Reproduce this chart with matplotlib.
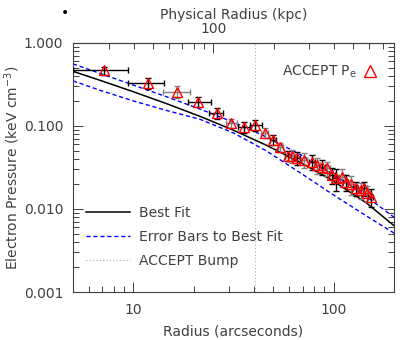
import numpy as np
import matplotlib.pyplot as plt
from matplotlib.lines import Line2D
from matplotlib.ticker import LogLocator, FixedLocator, NullFormatter, FormatStrFormatter

KPC_PER_ARCSEC = 3.98
BUMP_RADIUS = 40.3

# ACCEPT electron pressure points (arcsec, keV cm^-3)
radius = [7.1, 11.8, 16.6, 21.1, 26.2, 30.9, 35.6, 40.7, 45.2, 49.9, 54.3, 59.0,
          62.2, 65.9, 71.0, 78.3, 82.9, 87.8, 93.0, 98.5, 102.3, 110.5, 114.8,
          121.6, 128.8, 136.5, 141.8, 147.4, 153.1]
pressure = [0.467, 0.327, 0.259, 0.195, 0.143, 0.108, 0.098, 0.103, 0.083, 0.068,
            0.0554, 0.0439, 0.0439, 0.0408, 0.0390, 0.0371, 0.0339, 0.0323, 0.0309,
            0.0257, 0.0234, 0.0245, 0.0213, 0.0199, 0.0178, 0.0169, 0.0178, 0.0155,
            0.0141]
r_lo = [2.1, 2.36, 2.5, 2.3, 2.2, 1.8, 2.3, 2.6, 1.6, 1.7, 1.8, 2.0, 2.1, 2.2, 2.4,
        2.6, 2.8, 2.9, 3.1, 3.3, 3.4, 3.7, 3.8, 4.0, 4.3, 4.5, 4.7, 4.9, 5.1]
r_hi = [2.34, 2.4, 2.5, 3.2, 2.0, 1.9, 2.5, 3.0, 1.7, 1.8, 1.9, 2.0, 2.1, 2.2, 2.4,
        2.6, 2.8, 2.9, 3.1, 3.3, 3.4, 3.7, 3.8, 4.0, 4.3, 4.5, 4.7, 4.9, 5.1]
p_frac = [0.11, 0.15, 0.17, 0.14, 0.16, 0.13, 0.15, 0.15, 0.14, 0.14, 0.13, 0.15,
          0.18, 0.18, 0.2, 0.2, 0.22, 0.2, 0.2, 0.22, 0.3, 0.25, 0.22, 0.25, 0.2,
          0.22, 0.2, 0.22, 0.25]
bar_colors = ['black', 'black', 'gray', 'black', 'black', 'gray', 'black', 'black',
              'gray', 'black', 'gray', 'black', 'gray', 'black', 'gray', 'black',
              'gray', 'black', 'gray', 'black', 'black', 'gray', 'black', 'gray',
              'black', 'gray', 'black', 'gray', 'black']

# fit curves
fit_r = [5.0, 6.84, 10, 14.6, 21.6, 31.6, 46.2, 68.4, 100, 146, 202]
best_fit = [0.454, 0.353, 0.258, 0.186, 0.130, 0.0889, 0.0585, 0.0363, 0.0216, 0.0118, 0.0062]
fit_upper = [0.558, 0.428, 0.310, 0.225, 0.159, 0.111, 0.0736, 0.0451, 0.0260, 0.0141, 0.00785]
fit_lower = [0.348, 0.268, 0.200, 0.1538, 0.1198, 0.0824, 0.0500, 0.0271, 0.01475, 0.00824, 0.00507]

plt.rcParams['font.family'] = 'DejaVu Sans'
txt = '0.25'

fig = plt.figure(figsize=(4.15, 3.4), dpi=100)
ax = fig.add_axes([0.176, 0.141, 0.773, 0.733])

ax.plot(fit_r, best_fit, color='black', lw=1.1, label='Best Fit')
ax.plot(fit_r, fit_upper, color='blue', lw=1, ls=(0, (3, 2)), label='Error Bars to Best Fit')
ax.plot(fit_r, fit_lower, color='blue', lw=1, ls=(0, (3, 2)))
ax.axvline(BUMP_RADIUS, color='#a8b0a8', lw=0.8, ls=(0, (1, 2)), label='ACCEPT Bump')

for i in range(len(radius)):
    ax.errorbar(radius[i], pressure[i], xerr=[[r_lo[i]], [r_hi[i]]],
                yerr=[[pressure[i] * p_frac[i]], [pressure[i] * p_frac[i]]],
                fmt='none', ecolor=bar_colors[i], elinewidth=1, capsize=2.5, zorder=3)
ax.plot(radius, pressure, ls='none', marker='^', ms=7, mfc='none', mec='red',
        mew=1, zorder=4)

ax.set_xscale('log')
ax.set_yscale('log')
ax.set_xlim(5, 200)
ax.set_ylim(0.001, 1.0)

ax.yaxis.set_major_formatter(FormatStrFormatter('%.3f'))
ax.xaxis.set_major_formatter(FormatStrFormatter('%d'))
ax.yaxis.set_minor_locator(LogLocator(base=10, subs=np.arange(2, 10)))
ax.yaxis.set_minor_formatter(NullFormatter())
ax.xaxis.set_minor_formatter(NullFormatter())
ax.tick_params(which='both', direction='in', right=True, colors=txt, labelsize=10,
               labelcolor=txt)
ax.tick_params(axis='x', pad=8)
ax.tick_params(axis='y', pad=7)
ax.tick_params(which='major', length=7, width=0.7)
ax.tick_params(which='minor', length=4, width=0.7)
for s in ax.spines.values():
    s.set_color(txt)
    s.set_linewidth(0.8)

ax.set_xlabel('Radius (arcseconds)', fontsize=10, color=txt, labelpad=5)
ax.set_ylabel('Electron Pressure (keV cm$^{-3}$)', fontsize=10, color=txt, labelpad=1)

top = ax.secondary_xaxis('top', functions=(lambda x: x * KPC_PER_ARCSEC,
                                           lambda x: x / KPC_PER_ARCSEC))
top.set_xscale('log')
top.xaxis.set_major_locator(FixedLocator([100]))
top.xaxis.set_major_formatter(FormatStrFormatter('%d'))
top.xaxis.set_minor_locator(LogLocator(base=10, subs=np.arange(2, 10)))
top.xaxis.set_minor_formatter(NullFormatter())
top.tick_params(which='both', direction='in', colors=txt, labelsize=10, labelcolor=txt, pad=5)
top.tick_params(which='major', length=7, width=0.7)
top.tick_params(which='minor', length=4, width=0.7)
top.spines['top'].set_color(txt)
top.set_xlabel('Physical Radius (kpc)', fontsize=10, color=txt, labelpad=2)

leg = ax.legend(loc='lower left', bbox_to_anchor=(0.0, 0.045), frameon=False,
                fontsize=10, handlelength=3.2, labelspacing=0.75, handletextpad=0.65)
for t in leg.get_texts():
    t.set_color(txt)

tri = Line2D([], [], ls='none', marker='^', ms=8, mfc='none', mec='red', mew=1)
leg2 = ax.legend([tri], ['ACCEPT P$_\\mathrm{e}$'], loc='upper right',
                 bbox_to_anchor=(0.985, 0.965), frameon=False, fontsize=10,
                 markerfirst=False, handlelength=1, handletextpad=0.4)
for t in leg2.get_texts():
    t.set_color(txt)
ax.add_artist(leg)

fig.text(0.157, 0.962, '\u2022', fontsize=10, color='black', ha='center', va='center')

fig.savefig('out.png', dpi=100)
